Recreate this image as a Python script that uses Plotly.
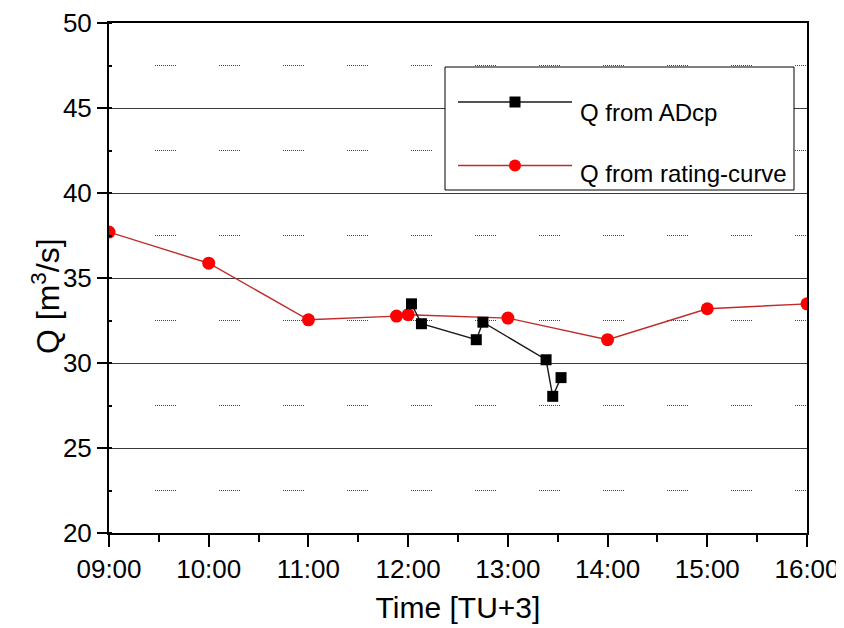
import plotly.graph_objects as go

DAY = "2000-01-01 "

# ---- data ----
rating_times = ["09:00", "10:00", "11:00", "11:53", "12:00", "13:00", "14:00", "15:00", "16:00"]
rating_q = [37.70, 35.87, 32.54, 32.76, 32.84, 32.64, 31.37, 33.19, 33.48]

adcp_times = ["12:02", "12:08", "12:41", "12:45", "13:23", "13:27", "13:32"]
adcp_q = [33.48, 32.31, 31.37, 32.40, 30.19, 28.04, 29.14]

x_tick_labels = ["09:00", "10:00", "11:00", "12:00", "13:00", "14:00", "15:00", "16:00"]
y_range = [20, 50]

name_adcp = "Q from ADcp"
name_rating = "Q from rating-curve"
x_title = "Time [TU+3]"
y_title = "Q [m<sup>3</sup>/s]"

FONT = "Liberation Sans, Arial, sans-serif"

# page body has an 8px margin: figure is placed at (8, 8) on screen
OFF = 8
W, H = 836, 620
# plot area on screen: x 109..807, y 23..533
SX0, SX1, SY0, SY1 = 109, 807, 23, 533
ML, MT = SX0 - OFF, SY0 - OFF
MR, MB = W - (SX1 - OFF), H - (SY1 - OFF)


def px(xs):
    return (xs - SX0) / (SX1 - SX0)


def py(ys):
    return (SY1 - ys) / (SY1 - SY0)


# dotted short segments for minor grid (period 64px, segment 46..68)
dot_pattern = ",".join(["1px", "1px", "1px", "43px"] + ["1px", "1px"] * 9)

fig = go.Figure()

fig.add_trace(go.Scatter(
    x=[DAY + t for t in rating_times], y=rating_q, name=name_rating,
    mode="lines+markers",
    line=dict(color="#c02a2a", width=1.4),
    marker=dict(symbol="circle", size=13, color="#ff0000"),
))
fig.add_trace(go.Scatter(
    x=[DAY + t for t in adcp_times], y=adcp_q, name=name_adcp,
    mode="lines+markers",
    line=dict(color="#1a1a1a", width=1.4),
    marker=dict(symbol="square", size=11, color="#000000"),
))

fig.update_xaxes(
    type="date", automargin=False,
    range=[DAY + x_tick_labels[0], DAY + x_tick_labels[-1]],
    tickvals=[DAY + t for t in x_tick_labels],
    ticktext=x_tick_labels,
    ticks="outside", ticklen=12, tickwidth=2, tickcolor="black",
    minor=dict(dtick=1800000, ticks="outside", ticklen=7, tickwidth=2, tickcolor="black", showgrid=False),
    showgrid=False, zeroline=False,
    showline=True, linecolor="black", linewidth=2, mirror=True,
    tickfont=dict(family=FONT, size=26, color="black"),
    title=dict(text=x_title, font=dict(family=FONT, size=30, color="black"), standoff=14),
)
fig.update_yaxes(
    range=y_range, dtick=5, tick0=20, automargin=False,
    ticks="outside", ticklen=10, tickwidth=2, tickcolor="black",
    showgrid=True, gridcolor="#3a3a3a", gridwidth=1.3,
    minor=dict(dtick=2.5, ticks="inside", ticklen=3, tickwidth=2, tickcolor="black",
               showgrid=True, gridcolor="#444444", gridwidth=1, griddash=dot_pattern),
    zeroline=False,
    showline=True, linecolor="black", linewidth=2, mirror=True,
    tickfont=dict(family=FONT, size=26, color="black"),
)

# ---- legend drawn to mimic the original box ----
shapes = [
    dict(type="rect", xref="paper", yref="paper",
         x0=px(445), x1=px(794), y0=py(190), y1=py(67),
         line=dict(color="black", width=1), fillcolor="white", layer="above"),
    dict(type="line", xref="paper", yref="paper",
         x0=px(458), x1=px(572), y0=py(102), y1=py(102),
         line=dict(color="#1a1a1a", width=1.4), layer="above"),
    dict(type="rect", xref="paper", yref="paper",
         x0=px(509.5), x1=px(520.5), y0=py(107.5), y1=py(96.5),
         line=dict(color="black", width=0), fillcolor="black", layer="above"),
    dict(type="line", xref="paper", yref="paper",
         x0=px(458), x1=px(572), y0=py(165.5), y1=py(165.5),
         line=dict(color="#c02a2a", width=1.4), layer="above"),
    dict(type="circle", xref="paper", yref="paper",
         x0=px(509), x1=px(521), y0=py(171.5), y1=py(159.5),
         line=dict(color="#ff0000", width=0), fillcolor="#ff0000", layer="above"),
]
annotations = [
    dict(xref="paper", yref="paper", x=px(578), y=py(112), xanchor="left", yanchor="middle",
         text=name_adcp, showarrow=False, font=dict(family=FONT, size=24, color="black")),
    dict(xref="paper", yref="paper", x=px(578), y=py(174), xanchor="left", yanchor="middle",
         text=name_rating, showarrow=False, font=dict(family=FONT, size=24, color="black")),
    dict(xref="paper", yref="paper", x=px(46), y=py(296), xanchor="center", yanchor="middle",
         textangle=-90, text=y_title, showarrow=False,
         font=dict(family=FONT, size=32, color="black")),
]

fig.update_layout(
    width=W, height=H,
    margin=dict(l=ML, r=MR, t=MT, b=MB),
    paper_bgcolor="white", plot_bgcolor="white",
    showlegend=False,
    shapes=shapes, annotations=annotations,
    font=dict(family=FONT, color="black"),
)

fig.write_html("out.html")
